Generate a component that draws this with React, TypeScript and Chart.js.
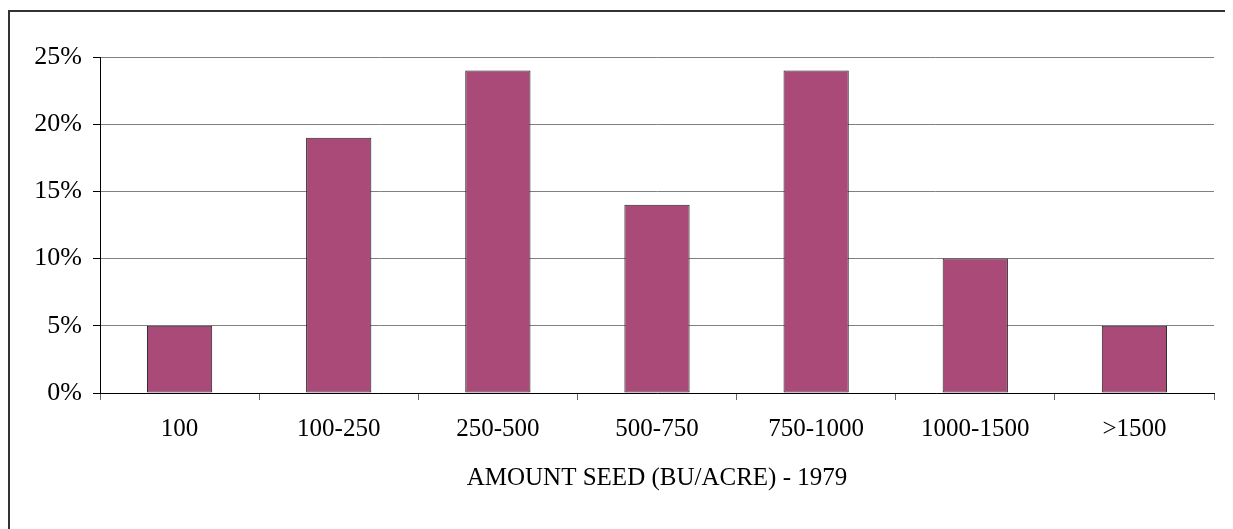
import React, { useEffect, useRef } from "react";
import { Chart, registerables } from "chart.js";

Chart.register(...registerables);

const categories = ["100", "100-250", "250-500", "500-750", "750-1000", "1000-1500", ">1500"];
const percentValues = [5, 19, 24, 14, 24, 10, 5];
const yTickValues = [0, 5, 10, 15, 20, 25];
const axisTitle = "AMOUNT SEED (BU/ACRE) - 1979";

const FONT = "'Liberation Serif', 'Times New Roman', serif";

export default function App() {
  const canvasRef = useRef<HTMLCanvasElement | null>(null);

  useEffect(() => {
    if (!canvasRef.current) return;
    const chart = new Chart(canvasRef.current, {
      type: "bar",
      data: {
        labels: categories,
        datasets: [
          {
            data: percentValues,
            backgroundColor: "#A94A78",
            borderColor: "#222222",
            borderWidth: 1,
            borderSkipped: false,
            barPercentage: 0.41,
            categoryPercentage: 1,
          },
        ],
      },
      options: {
        animation: false,
        responsive: false,
        maintainAspectRatio: false,
        layout: { padding: { top: 45, right: 19, bottom: 0, left: 0 } },
        plugins: { legend: { display: false }, tooltip: { enabled: false } },
        scales: {
          x: {
            offset: true,
            grid: {
              offset: true,
              drawOnChartArea: false,
              drawTicks: true,
              tickLength: 7,
              tickColor: "#666",
              lineWidth: 1,
            },
            border: { color: "#000", width: 1 },
            ticks: {
              color: "#000",
              font: { family: FONT, size: 25 },
              padding: 14,
              maxRotation: 0,
              autoSkip: false,
            },
            title: {
              display: true,
              text: axisTitle,
              color: "#000",
              font: { family: FONT, size: 25 },
              padding: { top: 0, bottom: 36 },
            },
            afterFit: (scale: any) => {
              scale.height = 136;
            },
          },
          y: {
            min: 0,
            max: 25,
            afterBuildTicks: (scale: any) => {
              scale.ticks = yTickValues.map((v) => ({ value: v }));
            },
            grid: {
              color: "#808080",
              tickColor: "#000",
              tickLength: 7,
              lineWidth: 1,
            },
            border: { color: "#000", width: 1 },
            ticks: {
              color: "#000",
              font: { family: FONT, size: 26 },
              padding: 11,
              callback: (v: any) => v + "%",
            },
            afterFit: (scale: any) => {
              scale.width = 90;
            },
          },
        },
      },
    });
    return () => chart.destroy();
  }, []);

  return (
    <div
      style={{
        marginTop: 2,
        width: 1225,
        height: 519,
        boxSizing: "border-box",
        borderTop: "2px solid #333",
        borderLeft: "2px solid #333",
        overflow: "hidden",
      }}
    >
      <canvas ref={canvasRef} width={1223} height={517} style={{ display: "block" }} />
    </div>
  );
}
